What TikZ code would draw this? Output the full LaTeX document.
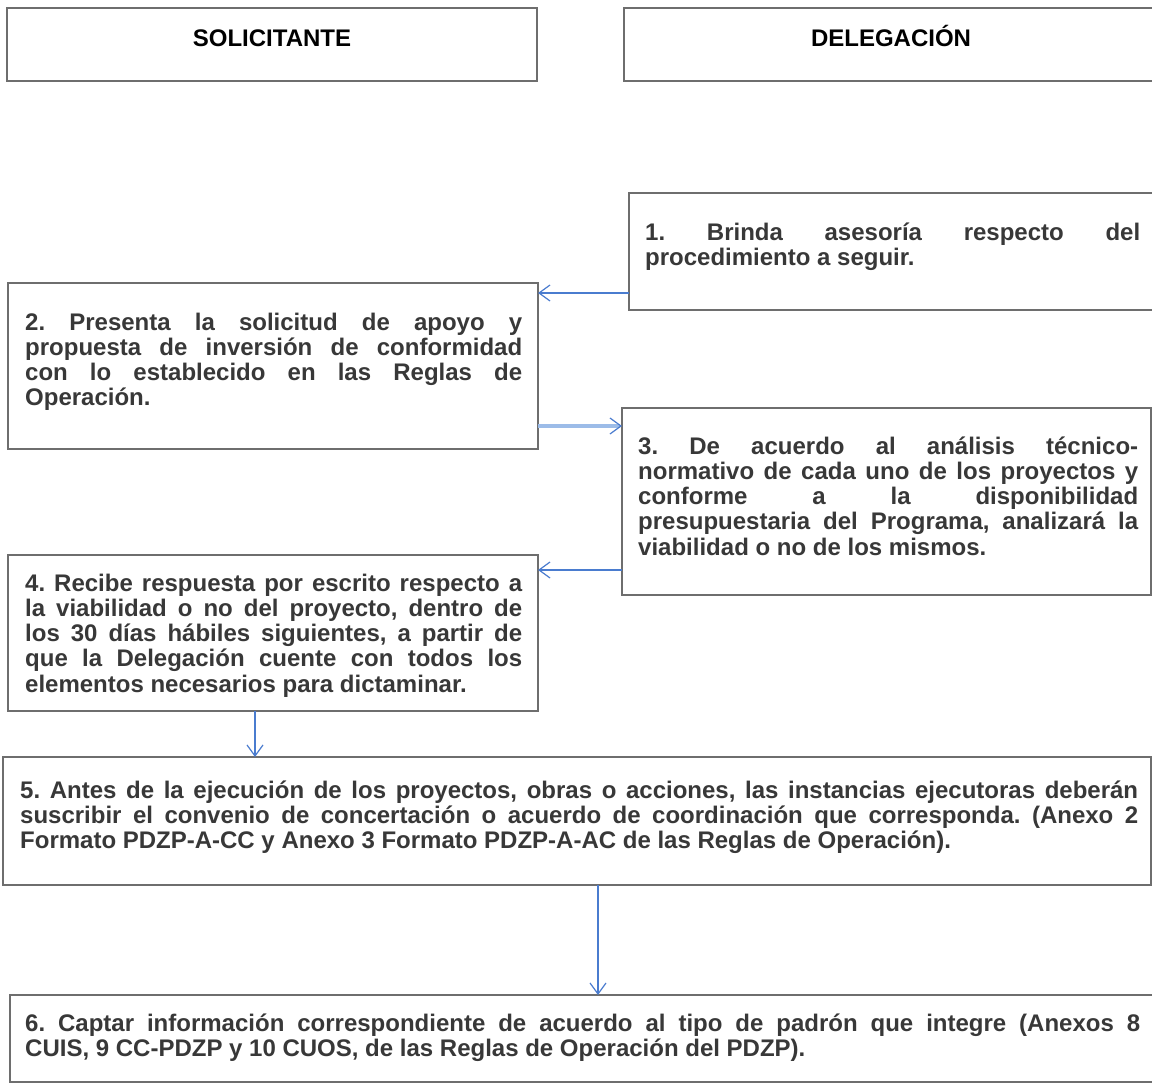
\documentclass[tikz,border=0pt]{standalone}
\usepackage{fontspec}
\setmainfont{Liberation Sans}
\usetikzlibrary{arrows.meta}
\definecolor{boxgray}{HTML}{6E6E6E}
\definecolor{txtgray}{HTML}{383838}
\definecolor{arrblue}{HTML}{4A7CCF}
\definecolor{arrlight}{HTML}{9CBCE8}
\frenchspacing
\begin{document}
\begin{tikzpicture}[x=1pt,y=-1pt,
  box/.style={draw=boxgray, line width=1.6pt, fill=white, inner sep=0pt, outer sep=0pt, anchor=north west},
  txt/.style={anchor=north west, inner sep=0pt, align=justify, text=txtgray,
    font=\fontsize{24}{25.2}\selectfont\bfseries,
    execute at begin node={\frenchspacing\tolerance=10000 \hyphenpenalty=10000 }},
  hdr/.style={anchor=base, inner sep=0pt, text=black, font=\fontsize{24}{28}\selectfont\bfseries},
  arr/.style={draw=arrblue, line width=1.2pt, -{Straight Barb[length=11pt,width=16pt]}},
  arrthick/.style={draw=arrlight, line width=3.5pt, -{Straight Barb[length=11pt,width=16pt,line width=1.2pt,color=arrblue]}}
]
\useasboundingbox (0,0) rectangle (1152,1083);
\clip (0,0) rectangle (1152,1083);
\fill[white] (0,0) rectangle (1152,1083);

% header boxes
\node[box, minimum width=530pt, minimum height=73pt] (h1) at (7,8) {};
\node[box, minimum width=540pt, minimum height=73pt] (h2) at (624,8) {};
\node[hdr] (ht1) at (272,47) {SOLICITANTE};
\node[hdr] (ht2) at (891,47) {DELEGACIÓN};

% step boxes
\node[box, minimum width=535pt, minimum height=117pt] (b1) at (629,193) {};
\node[box, minimum width=530pt, minimum height=166pt] (b2) at (8,283) {};
\node[box, minimum width=529pt, minimum height=187pt] (b3) at (622,408) {};
\node[box, minimum width=530pt, minimum height=156pt] (b4) at (8,555) {};
\node[box, minimum width=1148pt, minimum height=128pt] (b5) at (3,757) {};
\node[box, minimum width=1154pt, minimum height=87pt] (b6) at (10,995) {};

% texts
\node[txt, text width=495pt] (t1) at (645,222.5) {\strut 1. Brinda asesoría respecto del\linebreak procedimiento a seguir.};
\node[txt, text width=497pt] (t2) at (25,312.5) {\strut 2. Presenta la solicitud de apoyo y\linebreak propuesta de inversión de conformidad\linebreak con lo establecido en las Reglas de\linebreak Operación.};
\node[txt, text width=500pt] (t3) at (638,436.5) {\strut 3. De acuerdo al análisis técnico-\linebreak normativo de cada uno de los proyectos y\linebreak conforme a la disponibilidad\linebreak presupuestaria del Programa, analizará la\linebreak viabilidad o no de los mismos.};
\node[txt, text width=497pt] (t4) at (25,573.5) {\strut 4. Recibe respuesta por escrito respecto a\linebreak la viabilidad o no del proyecto, dentro de\linebreak los 30 días hábiles siguientes, a partir de\linebreak que la Delegación cuente con todos los\linebreak elementos necesarios para dictaminar.};
\node[txt, text width=1118pt] (t5) at (20,780.5) {\strut 5. Antes de la ejecución de los proyectos, obras o acciones, las instancias ejecutoras deberán\linebreak suscribir el convenio de concertación o acuerdo de coordinación que corresponda. (Anexo 2\linebreak Formato PDZP-A-CC y Anexo 3 Formato PDZP-A-AC de las Reglas de Operación).};
\node[txt, text width=1115pt] (t6) at (25,1013.5) {\strut 6. Captar información correspondiente de acuerdo al tipo de padrón que integre (Anexos 8\linebreak CUIS, 9 CC-PDZP y 10 CUOS, de las Reglas de Operación del PDZP).};

% connector rows / columns
\coordinate (r1) at (0,293);
\coordinate (r2) at (0,426);
\coordinate (r3) at (0,570);
\coordinate (c4) at (255,0);
\coordinate (c5) at (598,0);

\draw[arr] (b1.west |- r1) -- (b2.east |- r1);
\draw[arrthick] (b2.east |- r2) -- (b3.west |- r2);
\draw[arr] (b3.west |- r3) -- (b4.east |- r3);
\draw[arr] (b4.south -| c4) -- (b5.north -| c4);
\draw[arr] (b5.south -| c5) -- (b6.north -| c5);
\end{tikzpicture}
\end{document}
